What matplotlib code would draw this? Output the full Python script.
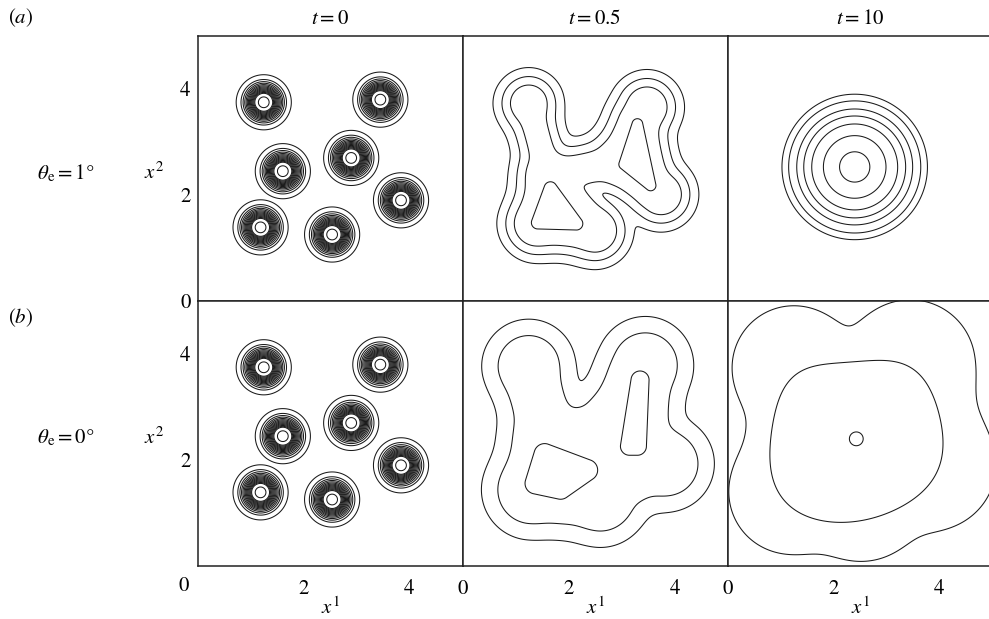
import numpy as np
import matplotlib
matplotlib.use("Agg")
import matplotlib.pyplot as plt
from matplotlib.path import Path

plt.rcParams['font.family'] = 'serif'
plt.rcParams['font.serif'] = ['STIXGeneral', 'Liberation Serif']
plt.rcParams['mathtext.fontset'] = 'stix'

# droplet centres at t = 0 (same for both rows)
cx = [1.25, 3.45, 1.61, 2.90, 3.84, 1.19, 2.54]
cy = [3.74, 3.79, 2.44, 2.69, 1.89, 1.38, 1.245]
t0_levels = [0.034, 0.1, 0.15, 0.2, 0.25, 0.3, 0.35, 0.4, 0.45, 0.5, 0.55, 0.6, 0.65, 0.7, 0.88]

# (a) theta_e = 1 deg, t = 0.5 : film skeleton
a05_x = [1.25, 3.48, 1.62, 2.95, 3.75, 1.40, 2.50]
a05_y = [3.72, 3.65, 2.35, 2.62, 2.00, 1.45, 1.32]
a05_links = [(0, 2), (2, 5), (5, 6), (2, 6), (2, 3), (3, 1), (3, 4)]
a05_thin = [0.1, 0, 0, 0, 0.05, 0, 0]
a05_levels = [0.33, 0.49, 0.66]
a05_cores = [[(1.66, 2.12), (1.42, 1.47), (2.15, 1.45)],
             [(3.30, 3.33), (3.55, 2.17), (3.05, 2.57)]]
a05_core_r = [0.12, 0.10]

# (a) t = 10 : single drop
a10_centre = (2.40, 2.52)
a10_levels = [0.39, 0.46, 0.55, 0.63, 0.72, 0.84, 0.96]

# (b) theta_e = 0 deg, t = 0.5
b05_x = [1.25, 3.45, 1.61, 2.90, 3.84, 1.30, 2.60]
b05_y = [3.76, 3.79, 2.44, 2.69, 1.92, 1.42, 1.28]
b05_links = [(0, 2), (2, 5), (5, 6), (2, 6), (2, 3), (3, 1), (3, 4), (6, 4)]
b05_thin = [0.05, 0, 0, 0, 0.15, 0, 0, 0.15]
b05_levels = [0.55, 0.86]
b05_cores = [[(1.55, 2.10), (1.38, 1.55), (1.85, 1.45), (2.35, 1.80)],
             [(3.35, 3.50), (3.15, 2.25), (3.30, 2.25)]]
b05_core_r = [0.20, 0.17]

# (b) t = 10 : spread film
b10_edge = 1.16                   # outer contour, distance from drops
b10_links = [(1, 4)]
b10_thin = [0.2]
b10_levels = [0.60]               # inner contour, fraction of the maximum
b10_peak = (2.43, 2.39)
b10_peak_r = 0.13

titles = ['$t = 0$', '$t = 0.5$', '$t = 10$']
row_labels = [r'$\theta_{\rm e} = 1$°', r'$\theta_{\rm e} = 0$°']

n = 601
g = np.linspace(0, 5, n)
X, Y = np.meshgrid(g, g)


def seg_dist(p, q):
    px, py = p
    qx, qy = q
    dx, dy = qx - px, qy - py
    s = ((X - px) * dx + (Y - py) * dy) / (dx * dx + dy * dy)
    s = np.clip(s, 0, 1)
    return np.hypot(X - px - s * dx, Y - py - s * dy)


def softmin(ds, tau=0.07):
    ds = np.array(ds)
    m = ds.min(axis=0)
    return m - tau * np.log(np.exp(-(ds - m) / tau).sum(axis=0))


def core_field(poly):
    pts = np.column_stack([X.ravel(), Y.ravel()])
    inside = Path(poly + [poly[0]]).contains_points(pts).reshape(X.shape)
    d = np.min([seg_dist(poly[k], poly[(k + 1) % len(poly)]) for k in range(len(poly))], axis=0)
    d[inside] = 0
    return d


def outline_field(xs, ys, links, thin, polys=(), tau=0.07):
    ds = [np.hypot(X - x, Y - y) for x, y in zip(xs, ys)]
    for (i, j), t in zip(links, thin):
        ds.append(seg_dist((xs[i], ys[i]), (xs[j], ys[j])) + t)
    for poly in polys:
        ds.append(core_field(poly))
    return softmin(ds, tau)


def gauss(x, y, sig):
    return np.exp(-((X - x) ** 2 + (Y - y) ** 2) / (2 * sig ** 2))


fig = plt.figure(figsize=(9.89, 6.19), dpi=100)
W, H = 989, 619
pw, ph = 265, 265
lefts = [197.5, 462.5, 727.5]
tops = [35.5, 300.5]
fs = 15
lw = 0.75
lc = '#1a1a1a'

axes = []
for r in range(2):
    row = []
    for c in range(3):
        ax = fig.add_axes([lefts[c] / W, 1 - (tops[r] + ph) / H, pw / W, ph / H])
        ax.set_xlim(0, 5)
        ax.set_ylim(0, 5)
        ax.set_xticks([0, 2, 4])
        ax.set_yticks([0, 2, 4])
        ax.set_xticks([2, 4], minor=True)
        ax.set_yticks([2, 4], minor=True)
        ax.tick_params(which='major', length=0, labelsize=fs)
        ax.tick_params(axis='x', which='major', pad=10)
        ax.tick_params(axis='y', which='major', pad=5)
        ax.tick_params(which='minor', direction='in', length=8, width=1.0, color='#a0a0a0',
                       top=True, right=True)
        for s in ax.spines.values():
            s.set_linewidth(1.1)
            s.set_color('#222222')
        ax.set_xticklabels([])
        ax.set_yticklabels([])
        row.append(ax)
    axes.append(row)

# t = 0 panels: separate drops
Z0 = np.max([gauss(x, y, 0.2) for x, y in zip(cx, cy)], axis=0)
for r in range(2):
    axes[r][0].contour(X, Y, Z0, levels=t0_levels, colors=lc, linewidths=lw)

# (a) t = 0.5
Za = outline_field(a05_x, a05_y, a05_links, a05_thin, a05_cores)
axes[0][1].contour(X, Y, Za, levels=a05_levels, colors=lc, linewidths=lw)
for poly, rr in zip(a05_cores, a05_core_r):
    axes[0][1].contour(X, Y, core_field(poly), levels=[rr], colors=lc, linewidths=lw)

# (a) t = 10
Z10a = gauss(a10_centre[0], a10_centre[1], 1.0)
axes[0][2].contour(X, Y, Z10a, levels=a10_levels, colors=lc, linewidths=lw)

# (b) t = 0.5
Zb = outline_field(b05_x, b05_y, b05_links, b05_thin, b05_cores)
axes[1][1].contour(X, Y, Zb, levels=b05_levels, colors=lc, linewidths=lw)
for poly, rr in zip(b05_cores, b05_core_r):
    axes[1][1].contour(X, Y, core_field(poly), levels=[rr], colors=lc, linewidths=lw)

# (b) t = 10
Zedge = outline_field(cx, cy, b10_links, b10_thin, tau=0.2)
axes[1][2].contour(X, Y, Zedge, levels=[b10_edge], colors=lc, linewidths=lw)
Z10b = sum(gauss(x, y, 0.95) for x, y in zip(cx, cy))
axes[1][2].contour(X, Y, Z10b, levels=[f * Z10b.max() for f in b10_levels],
                   colors=lc, linewidths=lw)
Zpk = np.hypot(X - b10_peak[0], Y - b10_peak[1])
axes[1][2].contour(X, Y, Zpk, levels=[b10_peak_r], colors=lc, linewidths=lw)

# tick labels
axes[0][0].set_yticklabels(['0', '2', '4'])
axes[1][0].set_yticklabels(['', '2', '4'])
axes[1][0].set_xticklabels(['', '2', '4'])
axes[1][1].set_xticklabels(['0', '2', '4'])
axes[1][2].set_xticklabels(['0', '2', '4'])
fig.text(184 / W, 1 - 586 / H, '0', fontsize=fs, ha='center', va='center')

for c in range(3):
    fig.text((lefts[c] + pw / 2) / W, 1 - 19 / H, titles[c], fontsize=fs, ha='center', va='center')
    fig.text((lefts[c] + pw / 2) / W, 1 - 608 / H, '$x^1$', fontsize=fs, ha='center', va='center')

for r in range(2):
    yc = tops[r] + ph / 2 + 5
    fig.text(37 / W, 1 - yc / H, row_labels[r], fontsize=fs, ha='left', va='center')
    fig.text(154 / W, 1 - yc / H, '$x^2$', fontsize=fs, ha='center', va='center')

fig.text(8 / W, 1 - 18 / H, '($a$)', fontsize=fs, ha='left', va='center')
fig.text(8 / W, 1 - 318 / H, '($b$)', fontsize=fs, ha='left', va='center')

fig.savefig('out.png', dpi=100)
